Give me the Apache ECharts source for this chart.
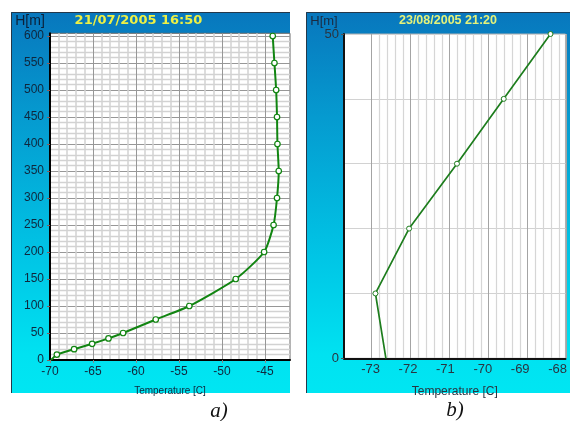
<!DOCTYPE html>
<html><head><meta charset="utf-8">
<script src="https://cdn.jsdelivr.net/npm/echarts@6/dist/echarts.min.js"></script>
<style>html,body{margin:0;padding:0;background:#fff;}#c{width:570px;height:421px;}</style>
</head><body><div id="c"></div>
<script>
const titleA = '21/07/2005 16:50';
const titleB = '23/08/2005 21:20';
const axisNameY = 'H[m]';
const axisNameX = 'Temperature [C]';
const captionA = 'a)';
const captionB = 'b)';
const tempA = [-69.88, -69.2, -67.2, -65.1, -63.2, -61.5, -57.7, -53.8, -48.4, -45.1, -44.0, -43.6, -43.4, -43.55, -43.6, -43.7, -43.9, -44.1];
const heightA = [0, 10, 20, 30, 40, 50, 75, 100, 150, 200, 250, 300, 350, 400, 450, 500, 550, 600];
const tempB = [-72.59, -72.87, -71.97, -70.69, -69.44, -68.19];
const heightB = [0, 10, 20, 30, 40, 50];
const xTicksA = [-70, -65, -60, -55, -50, -45];
const yTicksA = [0, 50, 100, 150, 200, 250, 300, 350, 400, 450, 500, 550, 600];
const xTicksB = [-73, -72, -71, -70, -69, -68];
const yTicksB = [0, 50];

const chart = echarts.init(document.getElementById('c'), null, {renderer: 'canvas'});
const labelColA = '#10263c';
const labelColB = '#2a3440';
const grad = () => new echarts.graphic.LinearGradient(0, 0, 0, 1, [
  {offset: 0, color: '#0877bd'},
  {offset: 0.28, color: '#059bd0'},
  {offset: 0.65, color: '#00c6e6'},
  {offset: 0.9, color: '#00e2f1'},
  {offset: 1, color: '#00e6f2'}
]);
const off = {show: false};
const blank = (gi, min, max) => ({type: 'value', gridIndex: gi, min, max, axisLine: off, axisTick: off, axisLabel: off, splitLine: off});

const dataA = tempA.map((t, i) => i === 0 ? {value: [t, heightA[i]], symbol: 'none'} : [t, heightA[i]]);
const dataB = tempB.map((t, i) => i === 0 ? {value: [t, heightB[i]], symbol: 'none'} : [t, heightB[i]]);

const option = {
  animation: false,
  grid: [
    {left: 50, top: 33.3, width: 240, height: 326.7, show: true, backgroundColor: '#fff', borderColor: '#6a6a6a', borderWidth: 1},
    {left: 50, top: 33.3, width: 215, height: 326.7},
    {left: 50, top: 36, width: 240, height: 324},
    {left: 344, top: 34, width: 231, height: 324.3, show: true, backgroundColor: '#fff', borderColor: '#b0b0b0', borderWidth: 1},
    {left: 371.7, top: 34, width: 195, height: 324.3}
  ],
  xAxis: [
    {type: 'value', gridIndex: 0, min: -70, max: -42.09, z: 5,
     axisLine: {show: true, onZero: false, lineStyle: {color: '#000', width: 2}},
     axisTick: {show: true, customValues: xTicksA, length: 3, lineStyle: {color: '#888'}},
     axisLabel: {customValues: xTicksA, fontSize: 12, color: labelColA, margin: 6, fontFamily: 'Liberation Sans'},
     splitLine: off,
     name: axisNameX, nameLocation: 'middle', nameGap: 26,
     nameTextStyle: {fontSize: 10, color: labelColA, fontFamily: 'Liberation Sans'}},
    {type: 'value', gridIndex: 1, min: -70, max: -45, interval: 5,
     axisLine: off, axisTick: off, axisLabel: off,
     minorTick: {show: false, splitNumber: 5},
     splitLine: {show: true, lineStyle: {color: '#979797', width: 1}},
     minorSplitLine: {show: true, lineStyle: {color: '#d2d2d2', width: 1.5}}},
    blank(2, -70, -42.09),
    {type: 'value', gridIndex: 3, min: -73.71, max: -67.79, z: 5,
     axisLine: {show: true, onZero: false, lineStyle: {color: '#111', width: 2}},
     axisTick: off,
     axisLabel: {customValues: xTicksB, fontSize: 13, color: labelColB, margin: 5, fontFamily: 'Liberation Sans'},
     splitLine: off,
     name: axisNameX, nameLocation: 'middle', nameGap: 27,
     nameTextStyle: {fontSize: 12, color: labelColB, fontFamily: 'Liberation Sans'}},
    {type: 'value', gridIndex: 4, min: -73, max: -68, interval: 1,
     axisLine: off, axisTick: off, axisLabel: off,
     minorTick: {show: false, splitNumber: 5},
     splitLine: {show: true, lineStyle: {color: '#a4a4a4', width: 1}},
     minorSplitLine: {show: true, lineStyle: {color: '#d6d6d6', width: 1.2}}}
  ],
  yAxis: [
    {type: 'value', gridIndex: 0, min: 0, max: 605, z: 5,
     axisLine: {show: true, onZero: false, lineStyle: {color: '#000', width: 2}},
     axisTick: {show: true, customValues: yTicksA, length: 3, lineStyle: {color: '#8a5a5a'}},
     axisLabel: {customValues: yTicksA, fontSize: 12, color: labelColA, margin: 6, fontFamily: 'Liberation Sans'},
     splitLine: off},
    blank(1, 0, 605),
    {type: 'value', gridIndex: 2, min: 0, max: 600, interval: 50,
     axisLine: off, axisTick: off, axisLabel: off,
     minorTick: {show: false, splitNumber: 5},
     splitLine: {show: true, lineStyle: {color: '#979797', width: 1}},
     minorSplitLine: {show: true, lineStyle: {color: '#d2d2d2', width: 1.3}}},
    {type: 'value', gridIndex: 3, min: 0, max: 50, interval: 50, z: 5,
     axisLine: {show: true, onZero: false, lineStyle: {color: '#111', width: 2}},
     axisTick: {show: true, customValues: yTicksB, length: 3, lineStyle: {color: '#555'}},
     axisLabel: {customValues: yTicksB, fontSize: 13, color: labelColB, margin: 5, fontFamily: 'Liberation Sans'},
     splitLine: off},
    blank(4, 0, 50),
    {type: 'value', gridIndex: 3, min: 0, max: 50, interval: 10, position: 'left',
     axisLine: off, axisTick: off, axisLabel: off,
     splitLine: {show: true, lineStyle: {color: '#d2d2d2', width: 1}}}
  ],
  series: [
    {type: 'line', xAxisIndex: 0, yAxisIndex: 0, data: dataA, smooth: 0.2, z: 10,
     lineStyle: {color: '#118511', width: 2}, symbol: 'circle', symbolSize: 5.5,
     itemStyle: {color: '#ffffff', borderColor: '#118511', borderWidth: 1.2}},
    {type: 'line', xAxisIndex: 3, yAxisIndex: 3, data: dataB, z: 10,
     lineStyle: {color: '#1d7d1d', width: 1.7}, symbol: 'circle', symbolSize: 5,
     itemStyle: {color: '#ffffff', borderColor: '#1d7d1d', borderWidth: 1}}
  ],
  graphic: [
    {type: 'rect', z: -10, shape: {x: 11, y: 12, width: 279, height: 381}, style: {fill: grad()}},
    {type: 'polyline', z: -9, shape: {points: [[11.5, 393], [11.5, 12.5], [290, 12.5]]}, style: {fill: null, stroke: '#24384a', lineWidth: 1}},
    {type: 'rect', z: -10, shape: {x: 306, y: 12, width: 270, height: 381}, style: {fill: grad()}},
    {type: 'polyline', z: -9, shape: {points: [[306.5, 393], [306.5, 12.5], [576, 12.5]]}, style: {fill: null, stroke: '#24384a', lineWidth: 1}},
    {type: 'text', z: 20, x: 30, y: 21, style: {text: axisNameY, fill: '#0c2038', fontSize: 14, fontFamily: 'Liberation Sans', textAlign: 'center', textVerticalAlign: 'middle'}},
    {type: 'text', z: 20, x: 138.5, y: 21, style: {text: titleA, fill: '#eef044', fontSize: 13, fontWeight: 'bold', fontFamily: 'DejaVu Sans', textAlign: 'center', textVerticalAlign: 'middle'}},
    {type: 'text', z: 20, x: 324, y: 21, style: {text: axisNameY, fill: '#1a2a40', fontSize: 13, fontFamily: 'Liberation Sans', textAlign: 'center', textVerticalAlign: 'middle'}},
    {type: 'text', z: 20, x: 448, y: 21, style: {text: titleB, fill: '#e4f27a', fontSize: 12.5, fontWeight: 'bold', fontFamily: 'Liberation Sans', textAlign: 'center', textVerticalAlign: 'middle'}},
    {type: 'text', z: 20, x: 219, y: 411, style: {text: captionA, fill: '#111', fontSize: 21, fontStyle: 'italic', fontFamily: 'Liberation Serif', textAlign: 'center', textVerticalAlign: 'middle'}},
    {type: 'text', z: 20, x: 455, y: 410, style: {text: captionB, fill: '#111', fontSize: 21, fontStyle: 'italic', fontFamily: 'Liberation Serif', textAlign: 'center', textVerticalAlign: 'middle'}}
  ]
};
chart.setOption(option);
</script></body></html>
